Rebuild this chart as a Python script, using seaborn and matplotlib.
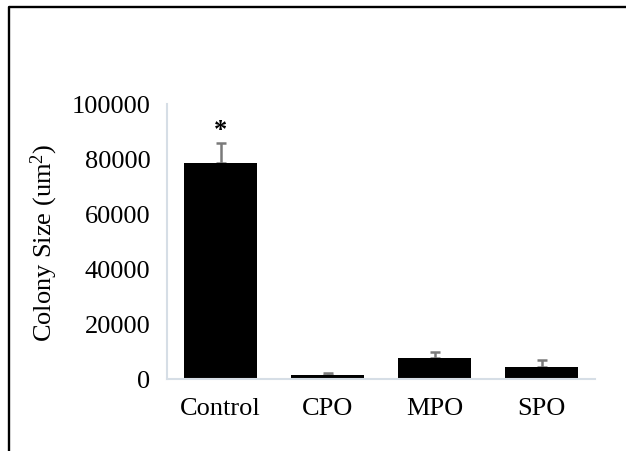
import matplotlib
matplotlib.use("Agg")
import matplotlib.pyplot as plt
from matplotlib.lines import Line2D
import seaborn as sns
import pandas as pd
import numpy as np

groups = ["Control", "CPO", "MPO", "SPO"]
means = [78500, 1400, 7800, 4300]
errors = [7200, 800, 1900, 2600]
yticks = [0, 20000, 40000, 60000, 80000, 100000]
ylabel = "Colony Size (um$^{2}$)"

sns.set_theme(style="white")
plt.rcParams["font.family"] = ["Liberation Serif", "DejaVu Serif"]
plt.rcParams["mathtext.fontset"] = "custom"
plt.rcParams["mathtext.rm"] = "Liberation Serif"
plt.rcParams["mathtext.it"] = "Liberation Serif:italic"
plt.rcParams["mathtext.bf"] = "Liberation Serif:bold"

df = pd.DataFrame({"group": groups, "mean": means, "err": errors})

fig = plt.figure(figsize=(6.26, 4.52), dpi=100)
ax = fig.add_axes([0.2668, 0.1593, 0.6837, 0.6084])

sns.barplot(data=df, x="group", y="mean", color="black", width=0.675,
            errorbar=None, saturation=1, ax=ax, zorder=2)
for p in ax.patches:
    p.set_edgecolor("none")

x = np.arange(len(groups))
ax.errorbar(x, df["mean"], yerr=[np.zeros(len(groups)), df["err"]],
            fmt="none", ecolor="#7a7a7a", elinewidth=1.8, capsize=3.3,
            capthick=1.8, zorder=1)

ax.text(0, means[0] + errors[0] + 5000, "*", ha="center", va="center",
        fontsize=19, fontweight="bold", color="black")

ax.set_xlim(-0.5, len(groups) - 0.5)
ax.set_ylim(0, 100000)
ax.set_yticks(yticks)
ax.set_yticklabels([str(t) for t in yticks])
ax.tick_params(axis="both", length=0, labelsize=19, colors="black")
ax.tick_params(axis="x", pad=13)
ax.tick_params(axis="y", pad=12)
ax.set_xlabel("")
ax.set_ylabel(ylabel, fontsize=19, color="black")
ax.yaxis.set_label_coords(-0.25, 0.5)

for s in ["top", "right"]:
    ax.spines[s].set_visible(False)
for s in ["left", "bottom"]:
    ax.spines[s].set_color("#d6dee6")
    ax.spines[s].set_linewidth(1.5)

fig.add_artist(Line2D([0.0144, 0.0144, 1.0], [0.0, 0.982, 0.982],
                      transform=fig.transFigure, color="black", lw=1.7))

fig.savefig("out.png", dpi=100)
